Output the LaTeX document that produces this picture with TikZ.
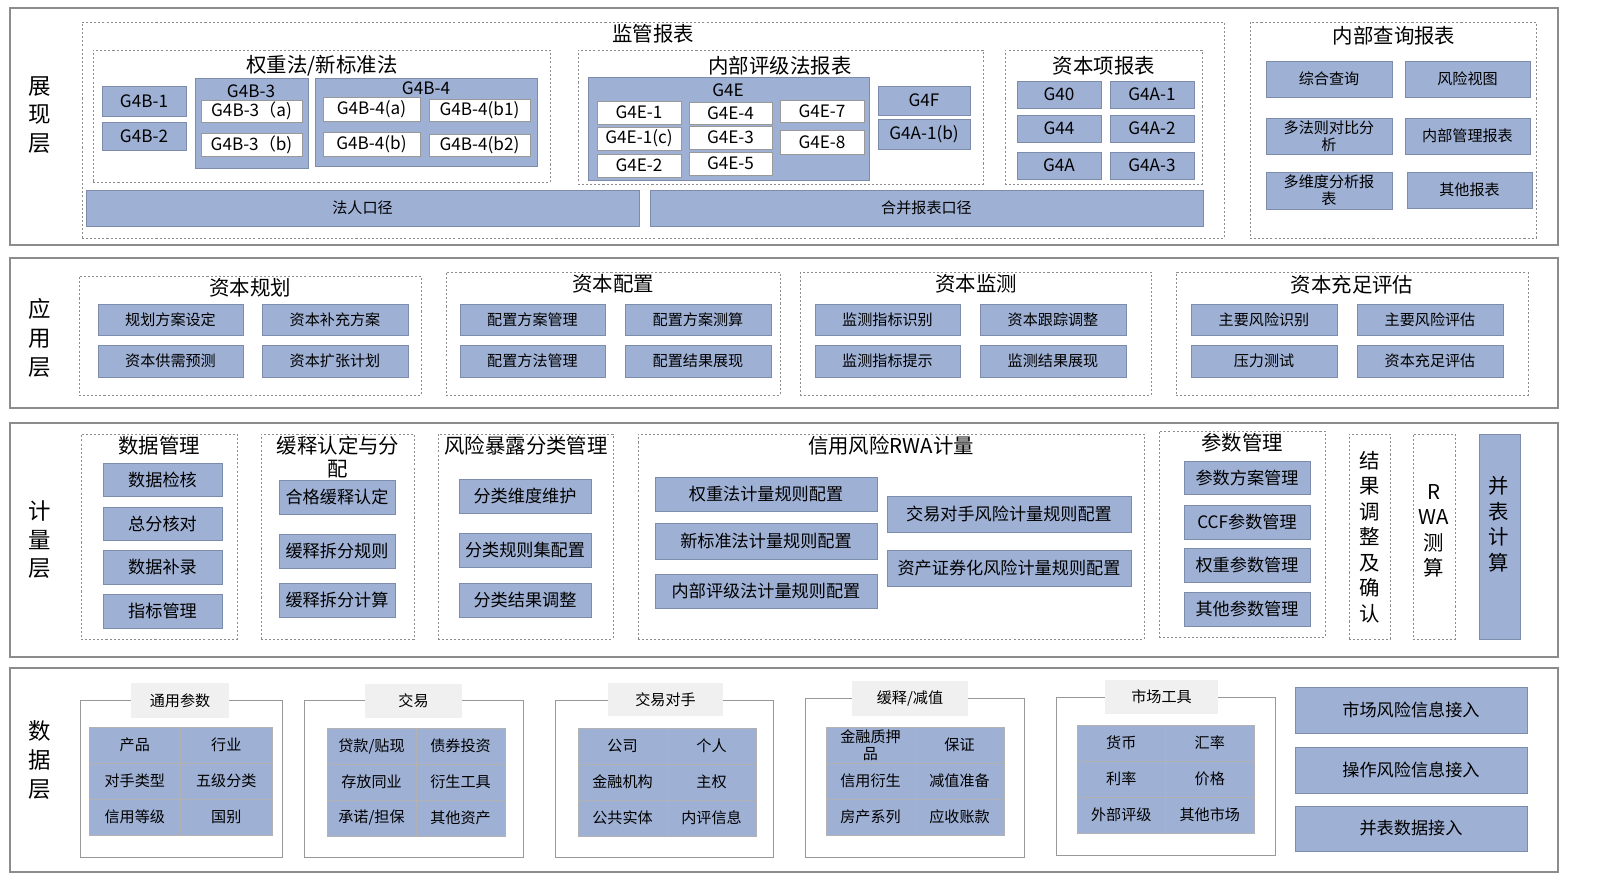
\documentclass[tikz,border=0pt]{standalone}
\usepackage{fontspec}
\setmainfont{Noto Sans CJK SC}
\definecolor{bl}{RGB}{158,176,212}
\definecolor{bd}{RGB}{125,140,170}
\begin{document}
\begin{tikzpicture}[x=0.49pt,y=-0.49pt,
 blu/.style={draw=bd,fill=bl,inner sep=0pt,align=center,font=\fontsize{7.4}{8.4}\selectfont},
 bluen/.style={draw=bd,fill=bl,inner sep=0pt,align=center,font=\fontsize{8.4}{9}\selectfont},
 wht/.style={draw=black!40,fill=white,inner sep=0pt,align=center,font=\fontsize{8.4}{9}\selectfont},
 dsh/.style={draw=black!45,dash pattern=on 1pt off 1pt,inner sep=0pt},
 band/.style={draw=black!45,line width=0.6pt,fill=white,inner sep=0pt},
 grp/.style={draw=black!40,fill=white,inner sep=0pt},
 gtit/.style={fill=black!6,inner sep=0pt,font=\fontsize{7.4}{8}\selectfont},
 ttl/.style={inner sep=0pt,font=\fontsize{10}{11}\selectfont},
 lay/.style={inner sep=0pt,align=center,font=\fontsize{11}{14}\selectfont},
 cell/.style={draw=black!30,fill=bl,inner sep=0pt,align=center,font=\fontsize{7.4}{8.4}\selectfont},
 cb/.style={draw=bd,fill=bl,inner sep=0pt,align=center,font=\fontsize{8.4}{9}\selectfont}]
\useasboundingbox (0,0) rectangle (1600,896);
\fill[white] (0,0) rectangle (1600,896);
\newcommand\B[7]{\pgfmathsetmacro\cxx{(#3+#5)/2}\pgfmathsetmacro\cyy{(#4+#6)/2}\pgfmathsetmacro\bww{(#5-#3)*0.49}\pgfmathsetmacro\bhh{(#6-#4)*0.49}\node[#1,minimum width=\bww pt,minimum height=\bhh pt] (#2) at (\cxx,\cyy) {#7};}
\newcommand\T[4]{\node[ttl] (#1) at (#2,#3) {#4};}
\newcommand\Grid[6]{%
 \foreach \t [count=\i from 0] in {#6} {%
  \pgfmathtruncatemacro\col{mod(\i,2)}\pgfmathtruncatemacro\row{div(\i,2)}%
  \pgfmathsetmacro\ax{#2+\col*(#4-#2)/2}\pgfmathsetmacro\bx{\ax+(#4-#2)/2}%
  \pgfmathsetmacro\ay{#3+\row*(#5-#3)/3}\pgfmathsetmacro\by{\ay+(#5-#3)/3}%
  \B{cell}{#1\i}{\ax}{\ay}{\bx}{\by}{\t}}}
% bands
\B{band}{L1}{10}{8}{1558}{245}{}
\B{band}{L2}{10}{258}{1558}{408}{}
\B{band}{L3}{10}{423}{1558}{657}{}
\B{band}{L4}{10}{668}{1558}{872}{}
\node[lay] (l1) at (40,115) {展\\现\\层};
\node[lay] (l2) at (40,338) {应\\用\\层};
\node[lay] (l3) at (40,540) {计\\量\\层};
\node[lay] (l4) at (40,760) {数\\据\\层};
% ===== presentation
\B{dsh}{jg}{82}{22}{1224}{238}{} \T{jgt}{653}{34}{监管报表}
\B{dsh}{qz}{93}{50}{550}{182}{} \T{qzt}{322}{66}{权重法/新标准法}
\B{bluen}{g4b1}{102}{86}{186}{116}{G4B-1}
\B{bluen}{g4b2}{102}{122}{186}{150}{G4B-2}
\B{bluen}{g4b3}{195}{78}{308}{168}{} \node[font=\fontsize{8.4}{9}\selectfont,inner sep=0pt] (g4b3t) at (251,91) {G4B-3};
\B{wht}{g4b3a}{201}{100}{302}{122}{G4B-3（a)}
\B{wht}{g4b3b}{201}{133}{302}{156}{G4B-3（b)}
\B{bluen}{g4b4}{315}{78}{537}{166}{} \node[font=\fontsize{8.4}{9}\selectfont,inner sep=0pt] (g4b4t) at (426,88) {G4B-4};
\B{wht}{g4b4a}{323}{97}{420}{121}{G4B-4(a)}
\B{wht}{g4b4b1}{429}{99}{530}{121}{G4B-4(b1)}
\B{wht}{g4b4b}{323}{132}{420}{156}{G4B-4(b)}
\B{wht}{g4b4b2}{429}{134}{530}{156}{G4B-4(b2)}
\B{dsh}{nb}{578}{50}{983}{184}{} \T{nbt}{780}{66}{内部评级法报表}
\B{bluen}{g4e}{588}{77}{869}{180}{} \node[font=\fontsize{8.4}{9}\selectfont,inner sep=0pt] (g4et) at (728,90) {G4E};
\B{wht}{e1}{597}{101}{681}{124}{G4E-1}
\B{wht}{e4}{689}{102}{772}{124}{G4E-4}
\B{wht}{e7}{780}{100}{864}{122}{G4E-7}
\B{wht}{e1c}{597}{127}{681}{150}{G4E-1(c)}
\B{wht}{e3}{689}{126}{772}{149}{G4E-3}
\B{wht}{e8}{780}{130}{864}{154}{G4E-8}
\B{wht}{e2}{597}{154}{681}{177}{G4E-2}
\B{wht}{e5}{689}{152}{772}{175}{G4E-5}
\B{bluen}{g4f}{878}{86}{970}{115}{G4F}
\B{bluen}{g4a1b}{878}{119}{970}{149}{G4A-1(b)}
\B{dsh}{zb}{1005}{50}{1202}{184}{} \T{zbt}{1104}{66}{资本项报表}
\B{bluen}{g40}{1017}{81}{1101}{108}{G40}
\B{bluen}{g4a1}{1110}{81}{1194}{108}{G4A-1}
\B{bluen}{g44}{1017}{115}{1101}{142}{G44}
\B{bluen}{g4a2}{1110}{115}{1194}{142}{G4A-2}
\B{bluen}{g4a}{1017}{152}{1101}{179}{G4A}
\B{bluen}{g4a3}{1110}{152}{1194}{179}{G4A-3}
\B{blu}{fr}{86}{190}{639}{226}{法人口径}
\B{blu}{hb}{650}{190}{1203}{226}{合并报表口径}
\B{dsh}{nc}{1250}{22}{1536}{238}{} \T{nct}{1394}{36}{内部查询报表}
\B{blu}{q1}{1266}{61}{1392}{97}{综合查询}
\B{blu}{q2}{1405}{61}{1530}{97}{风险视图}
\B{blu}{q3}{1266}{118}{1392}{154}{多法则对比分\\析}
\B{blu}{q4}{1405}{118}{1530}{154}{内部管理报表}
\B{blu}{q5}{1266}{172}{1392}{209}{多维度分析报\\表}
\B{blu}{q6}{1407}{172}{1532}{208}{其他报表}
% ===== application
\B{dsh}{a1}{79}{276}{421}{395}{} \T{a1t}{250}{288}{资本规划}
\B{blu}{a11}{98}{304}{243}{335}{规划方案设定}
\B{blu}{a12}{262}{304}{408}{335}{资本补充方案}
\B{blu}{a13}{98}{345}{243}{377}{资本供需预测}
\B{blu}{a14}{262}{345}{408}{377}{资本扩张计划}
\B{dsh}{a2}{446}{272}{780}{395}{} \T{a2t}{613}{284}{资本配置}
\B{blu}{a21}{460}{304}{605}{335}{配置方案管理}
\B{blu}{a22}{625}{304}{771}{335}{配置方案测算}
\B{blu}{a23}{460}{345}{605}{377}{配置方法管理}
\B{blu}{a24}{625}{345}{771}{377}{配置结果展现}
\B{dsh}{a3}{800}{272}{1151}{395}{} \T{a3t}{976}{284}{资本监测}
\B{blu}{a31}{815}{304}{960}{335}{监测指标识别}
\B{blu}{a32}{980}{304}{1126}{335}{资本跟踪调整}
\B{blu}{a33}{815}{345}{960}{377}{监测指标提示}
\B{blu}{a34}{980}{345}{1126}{377}{监测结果展现}
\B{dsh}{a4}{1176}{272}{1528}{395}{} \T{a4t}{1352}{285}{资本充足评估}
\B{blu}{a41}{1191}{304}{1337}{335}{主要风险识别}
\B{blu}{a42}{1357}{304}{1503}{335}{主要风险评估}
\B{blu}{a43}{1191}{345}{1337}{377}{压力测试}
\B{blu}{a44}{1357}{345}{1503}{377}{资本充足评估}
% ===== calculation
\B{dsh}{c1}{81}{434}{237}{639}{} \T{c1t}{159}{446}{数据管理}
\B{cb}{c11}{103}{463}{222}{496}{数据检核}
\B{cb}{c12}{103}{507}{222}{540}{总分核对}
\B{cb}{c13}{103}{550}{222}{584}{数据补录}
\B{cb}{c14}{103}{594}{222}{628}{指标管理}
\B{dsh}{c2}{261}{434}{414}{639}{} \node[ttl,align=center,font=\fontsize{10}{11.5}\selectfont] (c2t) at (338,457) {缓释认定与分\\配};
\B{cb}{c21}{279}{480}{395}{514}{合格缓释认定}
\B{cb}{c22}{279}{534}{395}{568}{缓释拆分规则}
\B{cb}{c23}{279}{583}{395}{617}{缓释拆分计算}
\B{dsh}{c3}{438}{434}{613}{639}{} \T{c3t}{526}{446}{风险暴露分类管理}
\B{cb}{c31}{459}{479}{591}{513}{分类维度维护}
\B{cb}{c32}{459}{533}{591}{567}{分类规则集配置}
\B{cb}{c33}{459}{583}{591}{617}{分类结果调整}
\B{dsh}{c4}{638}{434}{1144}{639}{} \T{c4t}{891}{446}{信用风险RWA计量}
\B{cb}{c41}{655}{477}{877}{511}{权重法计量规则配置}
\B{cb}{c42}{655}{523}{877}{559}{新标准法计量规则配置}
\B{cb}{c43}{655}{574}{877}{608}{内部评级法计量规则配置}
\B{cb}{c44}{887}{496}{1131}{532}{交易对手风险计量规则配置}
\B{cb}{c45}{887}{550}{1131}{586}{资产证券化风险计量规则配置}
\B{dsh}{c5}{1159}{431}{1325}{637}{} \T{c5t}{1242}{443}{参数管理}
\B{cb}{c51}{1184}{461}{1310}{494}{参数方案管理}
\B{cb}{c52}{1184}{505}{1310}{539}{CCF参数管理}
\B{cb}{c53}{1184}{548}{1310}{582}{权重参数管理}
\B{cb}{c54}{1184}{592}{1310}{626}{其他参数管理}
\B{dsh}{c6}{1349}{434}{1390}{639}{}
\node[lay,font=\fontsize{10}{12.5}\selectfont] (c6t) at (1370,537) {结\\果\\调\\整\\及\\确\\认};
\B{dsh}{c7}{1413}{434}{1455}{639}{}
\node[lay,font=\fontsize{10}{12.5}\selectfont] (c7t) at (1434,531) {R\\WA\\测\\算};
\B{cb}{c8}{1479}{434}{1520}{639}{}
\node[lay,font=\fontsize{10}{12.5}\selectfont] (c8t) at (1499,524) {并\\表\\计\\算};
% ===== data
\B{grp}{d1}{80}{700}{282}{857}{} \B{gtit}{d1t}{131}{683}{229}{718}{通用参数}
\Grid{d1g}{89}{727}{272}{835}{产品,行业,对手类型,五级分类,信用等级,国别}
\B{grp}{d2}{304}{700}{523}{857}{} \B{gtit}{d2t}{365}{684}{462}{718}{交易}
\Grid{d2g}{327}{728}{505}{836}{贷款/贴现,债券投资,存放同业,衍生工具,承诺/担保,其他资产}
\B{grp}{d3}{555}{700}{773}{857}{} \B{gtit}{d3t}{608}{683}{723}{716}{交易对手}
\Grid{d3g}{578}{728}{756}{836}{公司,个人,金融机构,主权,公共实体,内评信息}
\B{grp}{d4}{805}{698}{1024}{857}{} \B{gtit}{d4t}{852}{681}{968}{716}{缓释/减值}
\Grid{d4g}{826}{727}{1004}{835}{{金融质押\\品},保证,信用衍生,减值准备,房产系列,应收账款}
\B{grp}{d5}{1056}{697}{1275}{855}{} \B{gtit}{d5t}{1105}{680}{1218}{714}{市场工具}
\Grid{d5g}{1077}{725}{1254}{833}{货币,汇率,利率,价格,外部评级,其他市场}
\B{cb}{d6}{1295}{687}{1527}{733}{市场风险信息接入}
\B{cb}{d7}{1295}{747}{1527}{793}{操作风险信息接入}
\B{cb}{d8}{1295}{806}{1527}{851}{并表数据接入}
\end{tikzpicture}
\end{document}
